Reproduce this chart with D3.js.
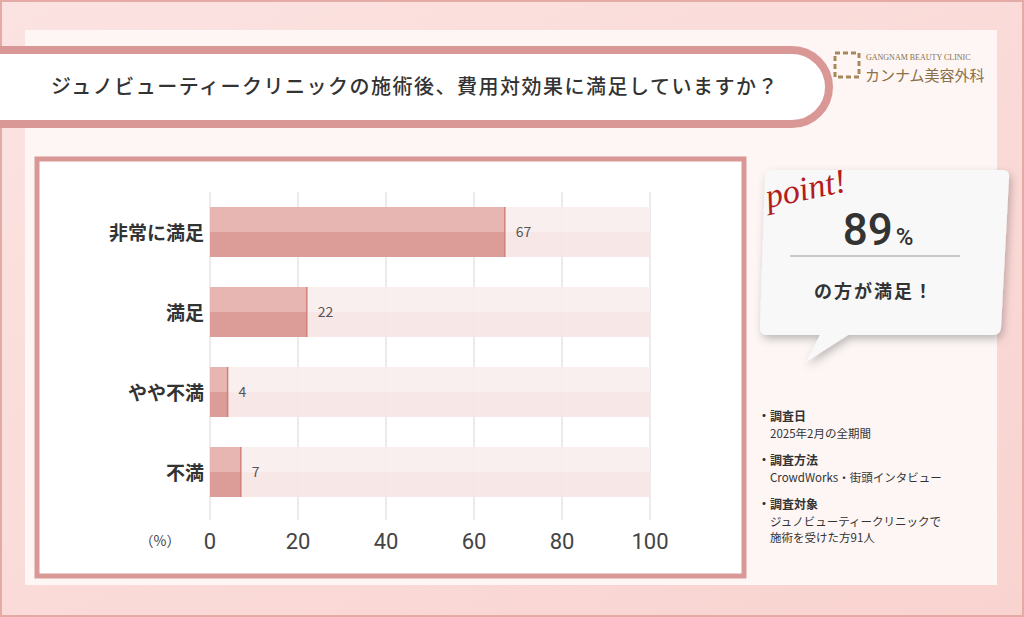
<!DOCTYPE html><html><head><meta charset="utf-8"><script src="https://cdn.jsdelivr.net/npm/d3@7"></script>
<style>body{margin:0;background:#fff}svg{display:block;font-family:"Noto Sans CJK JP","Noto Sans",sans-serif}</style></head><body><svg id="c" width="1024" height="617"></svg><script>
const categories=["非常に満足","満足","やや不満","不満"];
const values=[67,22,4,7];
const ticks=[0,20,40,60,80,100];
const notes=[["調査日","2025年2月の全期間"],["調査方法","CrowdWorks・街頭インタビュー"],["調査対象","ジュノビューティークリニックで","施術を受けた方91人"]];
const svg=d3.select("#c");
const defs=svg.append("defs");
const g=defs.append("linearGradient").attr("id","bg").attr("x1",0).attr("y1",0).attr("x2",1).attr("y2",1);
g.append("stop").attr("offset",0).attr("stop-color","#fbe3e1");g.append("stop").attr("offset",1).attr("stop-color","#f9d3d0");
const sh=defs.append("filter").attr("id","sh").attr("x","-20%").attr("y","-20%").attr("width","140%").attr("height","140%");
sh.append("feDropShadow").attr("dx",2).attr("dy",4).attr("stdDeviation",4).attr("flood-color","#000").attr("flood-opacity",0.25);
svg.append("rect").attr("width",1024).attr("height",617).attr("fill","url(#bg)");
svg.append("rect").attr("x",0).attr("y",0).attr("width",1024).attr("height",617).attr("fill","none").attr("stroke","#e4aaa6").attr("stroke-width",4);
svg.append("rect").attr("x",25).attr("y",30).attr("width",972).attr("height",555).attr("fill","#fdf6f5");
svg.append("path").attr("d","M-10,50 H792 A37,37 0 0 1 792,124 H-10 Z").attr("fill","#fff").attr("stroke","#d99896").attr("stroke-width",8);
svg.append("text").attr("x",415).attr("y",94).attr("text-anchor","middle").attr("font-size",20).attr("font-weight",500).attr("fill","#333").attr("letter-spacing",1.5).text("ジュノビューティークリニックの施術後、費用対効果に満足していますか？");
const lg=svg.append("g").attr("transform","translate(835,53)");
lg.append("rect").attr("width",24).attr("height",24).attr("fill","none").attr("stroke","#a8875a").attr("stroke-width",3).attr("stroke-dasharray","5,3");
lg.append("text").attr("x",31).attr("y",7).attr("font-size",8).attr("font-family","Liberation Serif").attr("fill","#8a7048").text("GANGNAM BEAUTY CLINIC");
lg.append("text").attr("x",30).attr("y",28).attr("font-size",15).attr("fill","#8a7048").text("カンナム美容外科");
svg.append("rect").attr("x",37).attr("y",159).attr("width",707).attr("height",417).attr("fill","#fff").attr("stroke","#d99896").attr("stroke-width",5);
const x=d3.scaleLinear().domain([0,100]).range([210,650]);
const y=d3.scaleBand().domain(categories).range([192,512]).paddingInner(0.375).paddingOuter(0.1875);
svg.append("g").selectAll("line").data(ticks).join("line").attr("x1",d=>x(d)).attr("x2",d=>x(d)).attr("y1",192).attr("y2",520).attr("stroke","#d8d8d8");
const bw=y.bandwidth();
const rows=svg.append("g").selectAll("g").data(categories).join("g");
rows.append("rect").attr("x",x(0)).attr("y",d=>y(d)).attr("width",x(100)-x(0)).attr("height",bw/2).attr("fill","#f9eded").attr("opacity",0.9);
rows.append("rect").attr("x",x(0)).attr("y",d=>y(d)+bw/2).attr("width",x(100)-x(0)).attr("height",bw/2).attr("fill","#f6e4e3").attr("opacity",0.9);
rows.append("rect").attr("x",x(0)).attr("y",d=>y(d)).attr("width",(d,i)=>x(values[i])-x(0)).attr("height",bw/2).attr("fill","#e7b6b3");
rows.append("rect").attr("x",x(0)).attr("y",d=>y(d)+bw/2).attr("width",(d,i)=>x(values[i])-x(0)).attr("height",bw/2).attr("fill","#dc9d99");
rows.append("line").attr("x1",(d,i)=>x(values[i])).attr("x2",(d,i)=>x(values[i])).attr("y1",d=>y(d)).attr("y2",d=>y(d)+bw).attr("stroke","#d0807b").attr("stroke-width",1.5);
rows.append("text").attr("x",(d,i)=>x(values[i])+11).attr("y",d=>y(d)+bw/2+5).attr("font-size",14).attr("fill","#555").text((d,i)=>values[i]);
rows.append("text").attr("x",204).attr("y",d=>y(d)+bw/2+8).attr("text-anchor","end").attr("font-size",19).attr("font-weight",700).attr("fill","#333").text(d=>d);
svg.append("g").selectAll("text").data(ticks).join("text").attr("x",d=>x(d)).attr("y",549).attr("text-anchor","middle").attr("font-size",22).attr("fill","#444").attr("font-family","Roboto").text(d=>d);
svg.append("text").attr("x",160).attr("y",546).attr("text-anchor","middle").attr("font-size",14).attr("fill","#444").text("（%）");
svg.append("path").attr("d","M772,170 H1003 Q1010,170 1009,178 L1001,328 Q1000,335 993,335 H848 L806,362 L820,335 H767 Q760,335 760,328 L765,177 Q765,170 772,170 Z").attr("fill","#f8f8f8").attr("filter","url(#sh)");
svg.append("text").attr("x",765).attr("y",201).attr("font-size",34).attr("font-style","italic").attr("font-family","Liberation Serif").attr("fill","#b31d1d").attr("transform","rotate(-12,800,190)").text("point!");
svg.append("text").attr("x",878).attr("y",245).attr("text-anchor","middle").attr("font-size",44).attr("font-family","Roboto").attr("font-weight",500).attr("fill","#333").text("89").append("tspan").attr("font-size",24).attr("dx",3).text("%");
svg.append("line").attr("x1",790).attr("x2",960).attr("y1",256).attr("y2",256).attr("stroke","#999");
svg.append("text").attr("x",874).attr("y",298).attr("text-anchor","middle").attr("font-size",18).attr("font-weight",700).attr("fill","#333").attr("letter-spacing",2).text("の方が満足！");
let yy=421;
notes.forEach(n=>{svg.append("text").attr("x",758).attr("y",yy).attr("font-size",12).attr("font-weight",700).attr("fill","#333").text("・"+n[0]);
n.slice(1).forEach((t,i)=>svg.append("text").attr("x",770).attr("y",yy+17+i*16).attr("font-size",11.5).attr("fill","#333").text(t));
yy+=44;});
</script></body></html>
